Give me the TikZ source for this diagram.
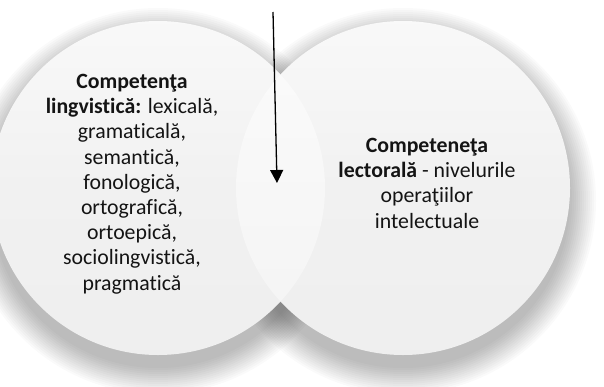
\documentclass[tikz,border=0pt]{standalone}
\usepackage{fontspec}
\setmainfont{Carlito}[Ligatures=NoCommon]
\usetikzlibrary{arrows.meta}
\begin{document}
\begin{tikzpicture}[x=1pt,y=-1pt,
  venn/.style={top color=gray!5, bottom color=gray!13, middle color=gray!11},
  lbl/.style={align=center, inner sep=0pt, font=\fontsize{21.8}{25.2}\selectfont, text=black!92}]
\useasboundingbox (0,0) rectangle (604,386);
\fill[white] (0,0) rectangle (604,386);
% shadows
\foreach \k in {28,26,...,2}{
  \fill[black, opacity=0.019] (158,201) circle [radius=165pt+\k pt];
  \fill[black, opacity=0.019] (403,201) circle [radius=165pt+\k pt];
}
% circles
\path[venn] (158,188) circle [radius=167pt];
\path[venn] (403,188) circle [radius=167pt];
% lens
\begin{scope}
  \clip (158,188) circle [radius=167pt];
  \path[top color=gray!3, bottom color=gray!9] (403,188) circle [radius=167pt];
\end{scope}
% labels
\node[lbl, anchor=base] (left) at (132,290) {\textbf{Competenţa}\\\textbf{lingvistică:} lexicală,\\gramaticală,\\semantică,\\fonologică,\\ortografică,\\ortoepică,\\sociolingvistică,\\pragmatică};
\node[lbl, anchor=base] (right) at (427,228) {\textbf{Competeneţa}\\\textbf{lectorală} - nivelurile\\operaţiilor\\intelectuale};
% arrow
\coordinate (a1) at (273,12);
\coordinate (a2) at (277,183);
\draw[line width=1.3pt, -{Triangle[length=13pt,width=13pt]}] (a1) -- (a2);
\end{tikzpicture}
\end{document}
